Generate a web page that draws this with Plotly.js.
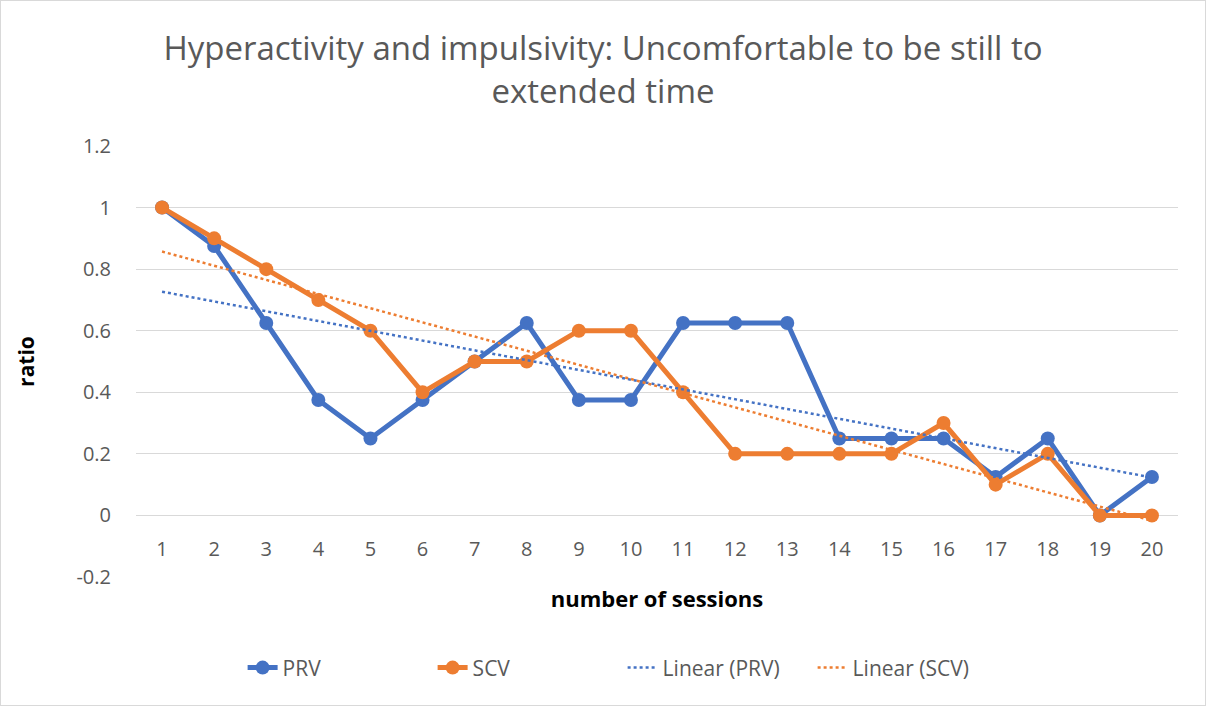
<!DOCTYPE html>
<html><head><meta charset="utf-8">
<script src="https://cdn.plot.ly/plotly-3.0.1.min.js"></script>
<style>html,body{margin:0;padding:0;background:#fff;}#chart{width:1204px;height:704px;border:1px solid #d9d9d9;}</style>
</head><body><div id="chart"></div>
<script>
const sessions = [1,2,3,4,5,6,7,8,9,10,11,12,13,14,15,16,17,18,19,20];
const prv = [1,0.875,0.625,0.375,0.25,0.375,0.5,0.625,0.375,0.375,0.625,0.625,0.625,0.25,0.25,0.25,0.125,0.25,0,0.125];
const scv = [1,0.9,0.8,0.7,0.6,0.4,0.5,0.5,0.6,0.6,0.4,0.2,0.2,0.2,0.2,0.3,0.1,0.2,0,0];
const yTicks = [-0.2,0,0.2,0.4,0.6,0.8,1,1.2];
const yTickText = ['-0.2','0','0.2','0.4','0.6','0.8','1','1.2'];

function linfit(x, y){
  const n=x.length; let mx=0,my=0; for(let i=0;i<n;i++){mx+=x[i];my+=y[i];} mx/=n; my/=n;
  let sxy=0,sxx=0; for(let i=0;i<n;i++){sxy+=(x[i]-mx)*(y[i]-my); sxx+=(x[i]-mx)*(x[i]-mx);}
  const b=sxy/sxx, a=my-b*mx; return x.map(v=>a+b*v);
}
const FONT = "'Open Sans', sans-serif";
const blue='#4472C4', orange='#ED7D31';
const traces = [
  {x:sessions,y:prv,name:'PRV',mode:'lines+markers',line:{color:blue,width:5},marker:{color:blue,size:14}},
  {x:sessions,y:scv,name:'SCV',mode:'lines+markers',line:{color:orange,width:5},marker:{color:orange,size:14}},
  {x:sessions,y:linfit(sessions,prv),name:'Linear (PRV)',mode:'lines',line:{color:blue,width:2.5,dash:'dot'}},
  {x:sessions,y:linfit(sessions,scv),name:'Linear (SCV)',mode:'lines',line:{color:orange,width:2.5,dash:'dot'}}
];
const layout = {
  width:1204,height:704,
  margin:{l:135,r:27,t:145,b:128},
  paper_bgcolor:'#fff',plot_bgcolor:'#fff',
  font:{family:FONT,color:'#595959',size:19},
  title:{text:'Hyperactivity and impulsivity: Uncomfortable to be still to<br>extended time',font:{family:FONT,size:33,color:'#595959'},x:0.5,xanchor:'center',yref:'container',y:0.916,yanchor:'middle'},
  xaxis:{range:[0.5,20.5],tickvals:sessions,ticktext:sessions.map(String),showgrid:false,zeroline:false,showline:false,
    anchor:'free',position:61/431,ticks:'outside',ticklen:15,tickcolor:'rgba(0,0,0,0)',
    tickfont:{size:20,color:'#595959'},
    title:{text:'<b>number of sessions</b>',font:{size:22,color:'#000'},standoff:30}},
  yaxis:{range:[-0.2,1.2],tickvals:yTicks,ticktext:yTickText,showgrid:true,gridcolor:'#d9d9d9',gridwidth:1.3,zeroline:false,showline:false,
    ticks:'outside',ticklen:20,tickcolor:'rgba(0,0,0,0)',tickfont:{size:20,color:'#595959'},
    title:{text:'<b>ratio</b>',font:{size:21,color:'#000'},standoff:36}},
  legend:{orientation:'h',x:0.467,xanchor:'center',y:-0.211,yanchor:'middle',font:{size:21,color:'#595959'},entrywidth:145,entrywidthmode:'pixels'},
  showlegend:true
};
Plotly.newPlot('chart',traces,layout,{displayModeBar:false});
</script></body></html>
